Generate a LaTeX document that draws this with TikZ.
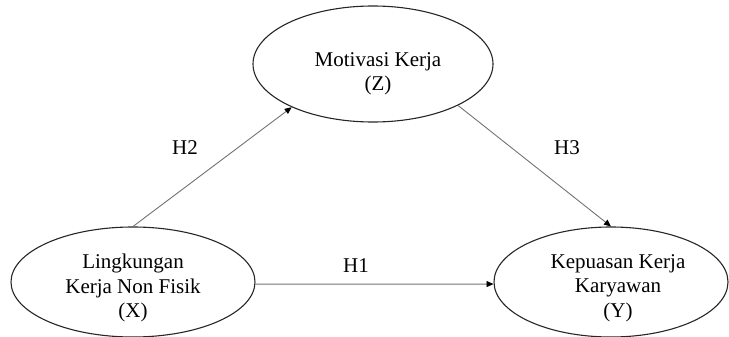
\documentclass[tikz,border=0pt]{standalone}
\usepackage{fontspec}
\setmainfont{Liberation Serif}
\usetikzlibrary{shapes.geometric,arrows.meta}
\begin{document}
\begin{tikzpicture}[x=1pt,y=-1pt,
  oval/.style={draw=black!85,line width=1.1pt,ellipse,inner sep=0pt},
  txt/.style={align=center,inner sep=0pt,font=\fontsize{21}{24.5}\selectfont},
  hyp/.style={inner sep=0pt,font=\fontsize{21}{24.5}\selectfont},
  link/.style={draw=black!55,line width=0.9pt,-{Triangle[length=7pt,width=6pt,color=black]}}]
\useasboundingbox (0,0) rectangle (729,337);
\node[oval,minimum width=240pt,minimum height=116pt] (Z) at (373,64) {};
\node[oval,minimum width=244pt,minimum height=110pt] (X) at (133,282) {};
\node[oval,minimum width=234pt,minimum height=110pt] (Y) at (611,282) {};
\node[txt] (Zt) at (378,74) {Motivasi Kerja\\(Z)};
\node[txt] (Xt) at (133,288) {Lingkungan\\Kerja Non Fisik\\(X)};
\node[txt] (Yt) at (618,288) {Kepuasan Kerja\\Karyawan\\(Y)};
\draw[link] (X.-1.4) -- (Y.181.5);
\draw[link] (X.north) -- (Z.208);
\draw[link] (Z.334) -- (Y.north);
\node[hyp] (H1) at (356,266) {H1};
\node[hyp] (H2) at (185,148) {H2};
\node[hyp] (H3) at (567,148) {H3};
\end{tikzpicture}
\end{document}
